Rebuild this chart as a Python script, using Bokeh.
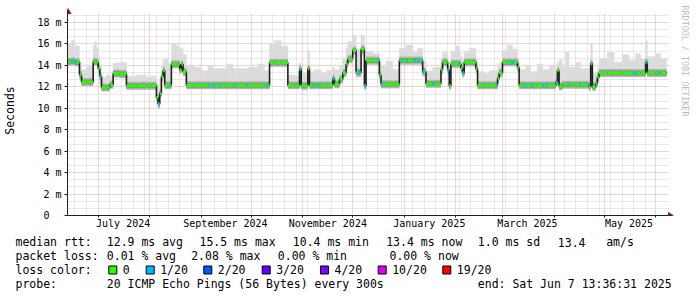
import numpy as np
import pandas as pd
from bokeh.plotting import figure
from bokeh.models import Range1d, FixedTicker, ColumnDataSource, PolyAnnotation, Title
from bokeh.layouts import column
from bokeh.embed import file_html
from bokeh.resources import INLINE
from bokeh.core.properties import value

# ---------------- data ----------------
END = "2025-06-07 13:36:31"
WINDOW_DAYS = 360

seg_start = [
    "2024-06-12 13:36", "2024-06-15", "2024-06-17", "2024-06-19 18:00", "2024-06-21", "2024-06-24",
    "2024-06-28", "2024-06-29", "2024-06-30", "2024-07-01", "2024-07-02", "2024-07-03",
    "2024-07-06", "2024-07-08", "2024-07-10", "2024-07-14", "2024-07-18", "2024-07-24",
    "2024-07-30", "2024-08-02", "2024-08-05", "2024-08-06", "2024-08-07", "2024-08-08",
    "2024-08-09", "2024-08-10", "2024-08-12", "2024-08-14", "2024-08-17", "2024-08-19",
    "2024-08-20", "2024-08-21", "2024-08-23", "2024-08-28", "2024-09-01", "2024-09-05",
    "2024-09-08", "2024-09-16", "2024-09-20", "2024-09-29", "2024-10-05", "2024-10-09",
    "2024-10-12", "2024-10-15", "2024-10-19", "2024-10-23", "2024-10-27", "2024-10-30",
    "2024-10-31", "2024-11-04", "2024-11-05", "2024-11-08", "2024-11-12", "2024-11-15",
    "2024-11-19", "2024-11-20", "2024-11-23", "2024-11-25", "2024-11-27", "2024-11-28",
    "2024-12-01", "2024-12-03", "2024-12-06", "2024-12-08", "2024-12-09", "2024-12-13",
    "2024-12-17", "2024-12-18", "2024-12-21", "2024-12-25", "2024-12-29", "2025-01-02",
    "2025-01-06", "2025-01-09", "2025-01-12", "2025-01-14", "2025-01-18", "2025-01-23",
    "2025-01-24", "2025-01-27", "2025-01-28", "2025-01-29", "2025-02-01", "2025-02-03",
    "2025-02-04", "2025-02-05", "2025-02-06", "2025-02-09", "2025-02-13", "2025-02-14",
    "2025-02-18", "2025-02-21", "2025-02-26", "2025-02-27", "2025-03-01", "2025-03-04",
    "2025-03-07", "2025-03-10", "2025-03-11", "2025-03-15", "2025-03-18", "2025-03-22",
    "2025-03-25", "2025-03-29", "2025-04-02", "2025-04-03", "2025-04-04", "2025-04-06",
    "2025-04-08", "2025-04-10", "2025-04-14", "2025-04-17", "2025-04-22", "2025-04-23",
    "2025-04-24", "2025-04-26", "2025-04-27", "2025-04-28", "2025-05-03", "2025-05-07",
    "2025-05-12", "2025-05-16", "2025-05-20", "2025-05-23", "2025-05-26", "2025-05-27",
    "2025-06-01", "2025-06-04",
]
# median rtt (ms)
rtt_median = [
    14.35, 14.4, 14.3, 13.1, 12.45, 12.45,
    14.35, 14.35, 14.3, 13.7, 13.0, 11.95,
    11.95, 12.2, 13.25, 13.2, 12.1, 12.1,
    12.1, 12.1, 11.0, 10.4, 11.4, 12.95,
    13.5, 12.15, 12.15, 14.1, 14.1, 13.6,
    14.1, 13.4, 12.15, 12.15, 12.15, 12.15,
    12.15, 12.15, 12.15, 12.15, 12.15, 12.15,
    14.25, 14.25, 14.25, 12.15, 12.15, 13.65,
    12.1, 13.7, 12.15, 12.15, 12.15, 12.15,
    12.75, 12.25, 12.7, 13.3, 14.1, 14.6,
    15.4, 13.35, 15.5, 12.1, 14.45, 14.45,
    13.1, 12.25, 12.25, 12.25, 14.45, 14.45,
    14.45, 14.45, 13.4, 12.3, 12.3, 13.6,
    14.3, 13.6, 12.1, 14.15, 14.15, 14.15,
    13.75, 13.3, 14.3, 14.3, 13.7, 12.15,
    12.15, 12.15, 12.8, 13.3, 14.3, 14.3,
    14.3, 13.8, 12.15, 12.15, 12.15, 12.15,
    12.15, 12.15, 12.4, 13.5, 12.05, 12.2,
    12.2, 12.2, 12.2, 12.2, 12.0, 14.15,
    12.0, 12.3, 12.9, 13.3, 13.3, 13.3,
    13.3, 13.3, 13.3, 13.3, 14.3, 13.3,
    13.3, 13.3,
]
# lowest ping of the smoke (ms)
rtt_min = [
    14.0, 14.05, 13.95, 12.6, 12.1, 12.1,
    14.0, 14.0, 13.95, 13.2, 12.3, 11.65,
    11.65, 11.85, 12.9, 12.9, 11.8, 11.8,
    11.8, 11.8, 10.6, 10.1, 11.0, 12.4,
    13.0, 11.85, 11.85, 13.8, 13.8, 13.2,
    13.8, 13.0, 11.85, 11.85, 11.85, 11.85,
    11.85, 11.85, 11.85, 11.85, 11.85, 11.85,
    13.9, 13.9, 13.9, 11.85, 11.85, 13.0,
    11.8, 12.5, 11.85, 11.85, 11.85, 11.85,
    12.3, 11.9, 12.3, 12.9, 13.6, 14.2,
    15.0, 12.9, 14.9, 11.8, 14.1, 14.1,
    12.6, 11.9, 11.9, 11.9, 14.1, 14.1,
    14.1, 14.1, 13.0, 11.95, 11.95, 13.2,
    13.95, 13.1, 11.8, 13.8, 13.8, 13.8,
    13.3, 12.9, 13.95, 13.95, 13.3, 11.85,
    11.85, 11.85, 12.4, 12.9, 13.95, 13.95,
    13.95, 13.3, 11.85, 11.85, 11.85, 11.85,
    11.85, 11.85, 12.0, 13.0, 11.75, 11.9,
    11.9, 11.9, 11.9, 11.9, 11.7, 13.0,
    11.7, 12.0, 12.5, 12.95, 12.95, 12.95,
    12.95, 12.95, 12.95, 12.95, 13.3, 12.95,
    12.95, 12.95,
]
# highest ping of the smoke (ms)
rtt_max = [
    16.0, 16.3, 15.8, 14.3, 13.6, 13.9,
    15.9, 16.2, 15.6, 14.8, 14.0, 12.9,
    13.1, 13.0, 14.2, 14.3, 13.0, 13.1,
    12.9, 13.0, 12.3, 11.8, 12.8, 14.0,
    14.5, 14.6, 14.2, 16.0, 15.8, 15.5,
    15.6, 15.0, 14.0, 13.8, 13.5, 14.0,
    13.7, 14.1, 13.7, 13.8, 14.1, 13.5,
    16.0, 16.3, 15.8, 13.1, 13.0, 14.2,
    13.3, 15.4, 13.4, 13.6, 13.3, 13.5,
    13.8, 13.6, 14.0, 14.6, 15.6, 16.2,
    16.8, 15.5, 16.8, 14.2, 15.3, 15.1,
    14.4, 14.0, 14.4, 13.6, 15.6, 15.9,
    15.3, 15.6, 14.4, 13.5, 13.8, 14.6,
    15.2, 14.5, 13.6, 15.3, 15.8, 15.2,
    14.8, 14.5, 15.3, 15.6, 14.6, 13.4,
    13.2, 13.5, 13.8, 14.2, 15.4, 15.9,
    15.5, 14.6, 13.6, 14.0, 13.4, 14.1,
    13.6, 13.9, 13.7, 14.3, 14.5, 14.0,
    15.2, 13.8, 14.3, 13.7, 13.8, 16.0,
    13.2, 13.4, 13.8, 14.6, 15.2, 14.3,
    15.0, 14.5, 15.1, 14.6, 16.3, 14.8,
    15.1, 14.6,
]
# sample times with 1/20 packet loss
loss_1_dates = [
    "2024-06-15", "2024-06-17", "2024-07-02", "2024-08-06", "2024-08-13", "2024-09-05",
    "2024-09-08", "2024-09-12", "2024-09-21", "2024-09-28", "2024-10-10", "2024-10-30",
    "2024-11-07", "2024-11-10", "2024-11-19", "2024-12-04", "2024-12-05", "2024-12-08",
    "2024-12-16", "2024-12-18", "2024-12-30", "2025-01-02", "2025-01-07", "2025-01-09",
    "2025-01-11", "2025-01-12", "2025-01-18", "2025-01-27", "2025-02-02", "2025-02-05",
    "2025-02-25", "2025-03-06", "2025-03-07", "2025-03-14", "2025-03-18", "2025-03-25",
    "2025-03-27", "2025-04-02", "2025-04-10", "2025-04-16", "2025-04-21", "2025-05-18",
    "2025-05-20", "2025-05-26", "2025-06-02",
]

y_ticks = [0, 2, 4, 6, 8, 10, 12, 14, 16, 18]
y_tick_labels = ["0\u00a0\u00a0", "2 m", "4 m", "6 m", "8 m", "10 m", "12 m", "14 m", "16 m", "18 m"]
x_tick_dates = ["2024-07-16 00:00", "2024-09-15 12:00", "2024-11-16 00:00", "2025-01-16 00:00",
                "2025-03-16 00:00", "2025-05-16 00:00"]
x_tick_labels = ["July 2024", "September 2024", "November 2024", "January 2025", "March 2025", "May 2025"]

loss_legend_labels = ["0", "1/20", "2/20", "3/20", "4/20", "10/20", "19/20"]
loss_legend_colors = ["#26ff00", "#00b8ff", "#0059ff", "#5e00ff", "#7e00ff", "#dd00ff", "#ff0000"]

stats_rtt = ["12.9 ms avg", "15.5 ms max", "10.4 ms min", "13.4 ms now", "1.0 ms sd", "13.4", "am/s"]
stats_loss = ["0.01 % avg", "2.08 % max", "0.00 % min", "0.00 % now"]
probe_text = "20 ICMP Echo Pings (56 Bytes) every 300s"
end_text = "end: Sat Jun  7 13:36:31 2025"

# ---------------- helpers ----------------
DAY_MS = 86400000.0


def to_ms(s):
    return np.array([pd.Timestamp(v).value / 1e6 for v in s], dtype=float)


end_ms = float(to_ms([END])[0])
start_ms = end_ms - WINDOW_DAYS * DAY_MS

# layout (canvas pixels)
W, H_MAIN = 697, 234
H_LEG = 297 - H_MAIN
FL, FR, FT, FB = 66, 676, 5, 215
GRAPH_R = 666
MS_PER_PX = (end_ms - start_ms) / (GRAPH_R - FL)
PX_PER_UNIT = 10.72


def px_t(xp):
    return start_ms + (xp - FL) * MS_PER_PX


def px_v(yp):
    return (FB - yp) / PX_PER_UNIT


MONO = "DejaVu Sans Mono"

starts = to_ms(seg_start)
ends = np.append(starts[1:], end_ms)
med = np.array(rtt_median)
src = ColumnDataSource(dict(left=starts, right=ends, med=med,
                            lo=np.array(rtt_min), hi=np.array(rtt_max)))

loss_x = to_ms(loss_1_dates)
idx = np.searchsorted(starts, loss_x, side="right") - 1
loss_src = ColumnDataSource(dict(x0=loss_x, x1=loss_x + DAY_MS, y=med[idx]))

# ---------------- main figure ----------------
p = figure(width=W, height=H_MAIN, output_backend="svg", toolbar_location=None,
           x_range=Range1d(start_ms, px_t(FR)), y_range=Range1d(0, px_v(FT)),
           min_border_left=FL, min_border_right=W - FR, min_border_top=FT,
           min_border_bottom=H_MAIN - FB, outline_line_color=None,
           background_fill_color="white", border_fill_color="white")
p.frame_align = False

month_starts = list(pd.date_range("2024-07-01", "2025-06-01", freq="MS"))
month_ms = to_ms(month_starts)
mondays = [d for d in pd.date_range("2024-06-13", "2025-06-07", freq="W-MON")
           if np.min(np.abs(to_ms([d])[0] - month_ms)) > 1.5 * DAY_MS]
monday_ms = to_ms(mondays)

MAJOR_GRID = "#E8A4A4"
MINOR_GRID = "#D2D2D2"

xg = p.xgrid[0]
xg.ticker = FixedTicker(ticks=list(month_ms), minor_ticks=list(monday_ms))
xg.bounds = (start_ms, px_t(668))
xg.cross_bounds = (0, px_v(13))
xg.grid_line_color = MAJOR_GRID
xg.grid_line_dash = "1 1"
xg.minor_grid_line_color = MINOR_GRID
xg.minor_grid_line_dash = "1 1"

yg = p.ygrid[0]
y_minor = [k * 2.0 / 3.0 for k in range(1, 29) if k % 3 != 0]
yg.ticker = FixedTicker(ticks=y_ticks, minor_ticks=y_minor)
yg.bounds = (0, px_v(13))
yg.cross_bounds = (start_ms, px_t(668))
yg.grid_line_color = MAJOR_GRID
yg.grid_line_dash = "1 1"
yg.minor_grid_line_color = MINOR_GRID
yg.minor_grid_line_dash = "1 1"

# smoke
p.quad(left="left", right="right", bottom="lo", top="hi", source=src,
       fill_color="#DCDCDC", line_color="#DCDCDC", line_width=0.6)
p.segment(x0="left", y0="med", x1="right", y1="med", source=src,
          line_color="#B4B4B4", line_width=8, line_cap="butt")
p.segment(x0="left", y0="med", x1="right", y1="med", source=src,
          line_color="#8E8E8E", line_width=5, line_cap="butt")
# median line
p.step(x=np.append(starts, end_ms), y=np.append(med, med[-1]), mode="after",
       line_color="#202020", line_width=1.6)
p.segment(x0="left", y0="med", x1="right", y1="med", source=src,
          line_color=loss_legend_colors[0], line_width=3, line_cap="butt")
p.segment(x0="x0", y0="y", x1="x1", y1="y", source=loss_src,
          line_color=loss_legend_colors[1], line_width=3, line_cap="butt")

# axes
AXIS_COL = "#1F1F1F"
xa = p.xaxis[0]
xt_ms = to_ms(x_tick_dates)
xa.ticker = FixedTicker(ticks=list(xt_ms), minor_ticks=list(month_ms))
xa.major_label_overrides = {float(t): lab for t, lab in zip(xt_ms, x_tick_labels)}
xa.bounds = (px_t(62), px_t(672))
xa.axis_line_color = AXIS_COL
xa.major_tick_out = 0
xa.major_tick_in = 0
xa.minor_tick_out = 2
xa.minor_tick_in = 0
xa.minor_tick_line_color = AXIS_COL
xa.major_label_standoff = 0
xa.major_label_text_font = MONO
xa.major_label_text_font_size = "10px"
xa.major_label_text_color = "#000000"

ya = p.yaxis[0]
ya.ticker = FixedTicker(ticks=y_ticks, minor_ticks=[])
ya.major_label_overrides = {t: lab for t, lab in zip(y_ticks, y_tick_labels)}
ya.bounds = (0, px_v(9))
ya.axis_line_color = AXIS_COL
ya.major_tick_out = 3
ya.major_tick_in = 0
ya.major_tick_line_color = AXIS_COL
ya.minor_tick_out = 0
ya.minor_tick_in = 0
ya.major_label_standoff = 3
ya.major_label_text_font = MONO
ya.major_label_text_font_size = "10px"
ya.major_label_text_color = "#000000"
ya.axis_label = "Seconds"
ya.axis_label_text_font = MONO
ya.axis_label_text_font_size = "11.5px"
ya.axis_label_text_font_style = "normal"
ya.axis_label_text_color = "#000000"
ya.axis_label_standoff = 17

# arrows
ARROW = "#801F1F"
p.add_layout(PolyAnnotation(xs=[px_t(63), px_t(70), px_t(66.5)],
                            ys=[px_v(13.5), px_v(13.5), px_v(7.5)],
                            fill_color=ARROW, fill_alpha=1.0, line_color=ARROW, line_width=0.5))
p.add_layout(PolyAnnotation(xs=[px_t(667.5), px_t(667.5), px_t(673.5)],
                            ys=[px_v(211.5), px_v(218.5), px_v(215)],
                            fill_color=ARROW, fill_alpha=1.0, line_color=ARROW, line_width=0.5))

p.add_layout(Title(text="RRDTOOL / TOBI OETIKER", align="left", vertical_align="middle",
                   text_font=MONO, text_font_size="8.4px", text_font_style="normal",
                   text_color="#BDBDBD", standoff=4, offset=0), "right")

# ---------------- legend block ----------------
q = figure(width=W, height=H_LEG, output_backend="svg", toolbar_location=None,
           x_range=Range1d(0, W), y_range=Range1d(H_LEG, 0), min_border=0,
           x_axis_type=None, y_axis_type=None, outline_line_color=None,
           background_fill_color="white", border_fill_color="white")
q.frame_align = False

row_y = [241.7 - H_MAIN, 255.0 - H_MAIN, 269.3 - H_MAIN, 283.3 - H_MAIN]
sq_left = [108.3, 145.7, 203.3, 261.7, 320.0, 377.7, 442.3]

tx, ty, tt = [], [], []


def put(x, r, s):
    tx.append(x - 1)
    ty.append(row_y[r])
    tt.append(s)


put(16, 0, "median rtt:")
for x, s in zip([107.3, 200, 293.3, 386.7, 478.3, 558.3, 606.7], stats_rtt):
    put(x, 0, s)
put(16, 1, "packet loss:")
for x, s in zip([107.3, 191.7, 278.3, 390], stats_loss):
    put(x, 1, s)
put(16, 2, "loss color:")
for x, s in zip(sq_left, loss_legend_labels):
    put(x + 15, 2, s)
put(16, 3, "probe:")
put(107.3, 3, probe_text)
put(478.3, 3, end_text)

q.text(x=tx, y=ty, text=tt, text_font=value(MONO), text_font_size=value("11.5px"),
       text_baseline="middle", text_align="left", text_color="#000000")
q.rect(x=[s + 4 for s in sq_left], y=[269.5 - H_MAIN] * len(sq_left), width=8, height=8,
       fill_color=loss_legend_colors, line_color="#000000", line_width=1)

layout = column(p, q, spacing=0)
open("out.html", "w").write(file_html(layout, INLINE))
